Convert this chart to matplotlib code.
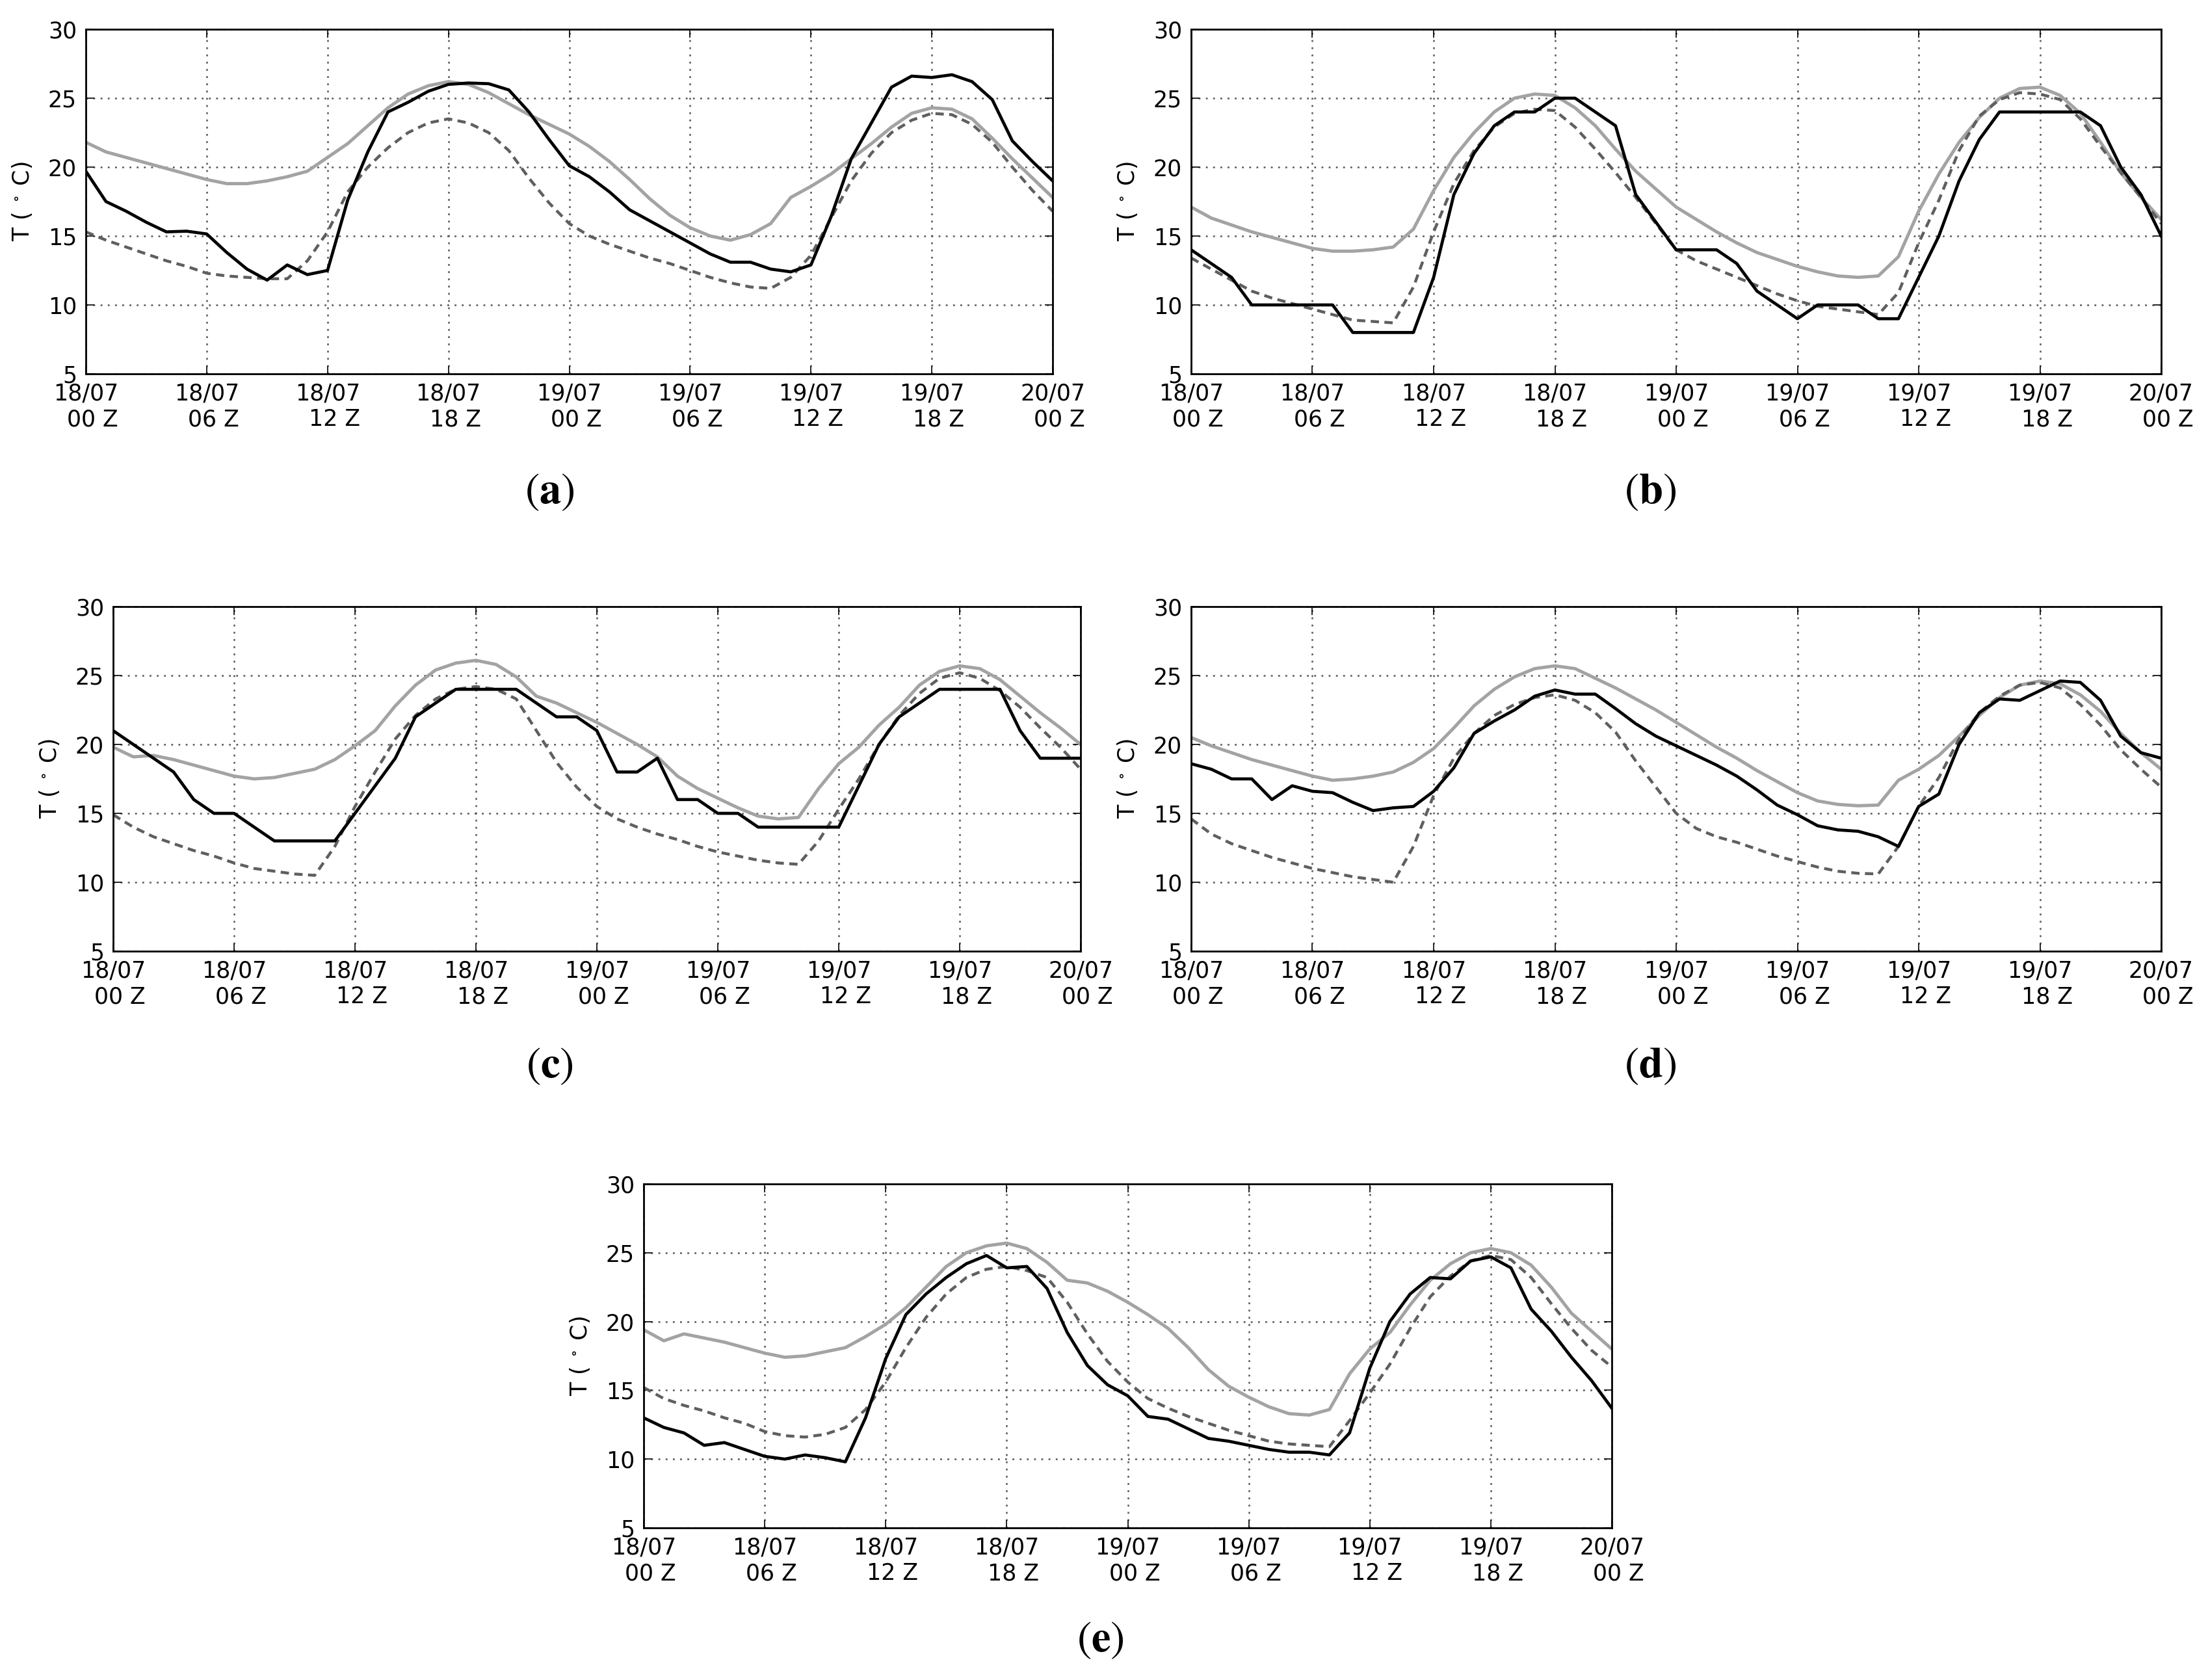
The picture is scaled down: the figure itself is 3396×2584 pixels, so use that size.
import matplotlib
matplotlib.use("Agg")
import matplotlib.pyplot as plt

# ---------------- data ----------------
hours = list(range(0, 49))
tick_hours = [0, 6, 12, 18, 24, 30, 36, 42, 48]
tick_labels = ["18/07\n00 Z", "18/07\n06 Z", "18/07\n12 Z", "18/07\n18 Z",
               "19/07\n00 Z", "19/07\n06 Z", "19/07\n12 Z", "19/07\n18 Z",
               "20/07\n00 Z"]
y_ticks = [5, 10, 15, 20, 25, 30]
panel_labels = ["a", "b", "c", "d", "e"]

a_black = [19.7, 17.5, 16.8, 16.0, 15.3, 15.35, 15.15, 13.8, 12.6, 11.8,
           12.9, 12.2, 12.5, 17.6, 21.1, 24.0, 24.7, 25.5, 26.0, 26.1,
           26.05, 25.6, 24.0, 22.0, 20.1, 19.3, 18.2, 16.9, 16.1, 15.3,
           14.5, 13.7, 13.1, 13.1, 12.6, 12.4, 12.9, 16.4, 20.6, 23.2,
           25.8, 26.6, 26.5, 26.7, 26.2, 24.9, 21.9, 20.4, 19.0]
a_gray = [21.8, 21.1, 20.7, 20.3, 19.9, 19.5, 19.1, 18.8, 18.8, 19.0,
          19.3, 19.7, 20.7, 21.7, 23.0, 24.3, 25.3, 25.9, 26.2, 26.0,
          25.4, 24.6, 23.8, 23.1, 22.4, 21.5, 20.4, 19.1, 17.7, 16.5,
          15.6, 15.0, 14.7, 15.1, 15.9, 17.8, 18.6, 19.5, 20.6, 21.7,
          22.9, 23.9, 24.3, 24.2, 23.5, 22.1, 20.6, 19.2, 17.8]
a_dash = [15.3, 14.7, 14.2, 13.7, 13.2, 12.8, 12.3, 12.1, 12.0, 11.9,
          11.9, 13.2, 15.3, 18.2, 20.0, 21.4, 22.5, 23.2, 23.5, 23.2,
          22.5, 21.2, 19.2, 17.4, 15.9, 15.0, 14.4, 13.9, 13.4, 13.0,
          12.5, 12.0, 11.6, 11.3, 11.2, 12.0, 13.6, 16.3, 19.0, 21.0,
          22.5, 23.4, 23.9, 23.8, 23.1, 21.8, 20.0, 18.3, 16.8]

b_black = [14, 13, 12, 10, 10, 10, 10, 10, 8, 8,
           8, 8, 12, 18, 21, 23, 24, 24, 25, 25,
           24, 23, 18, 16, 14, 14, 14, 13, 11, 10,
           9, 10, 10, 10, 9, 9, 12, 15, 19, 22,
           24, 24, 24, 24, 24, 23, 20, 18, 15]
b_gray = [17.1, 16.3, 15.8, 15.3, 14.9, 14.5, 14.1, 13.9, 13.9, 14.0,
          14.2, 15.5, 18.3, 20.7, 22.5, 24.0, 25.0, 25.3, 25.2, 24.3,
          23.0, 21.3, 19.7, 18.4, 17.1, 16.2, 15.3, 14.5, 13.8, 13.3,
          12.8, 12.4, 12.1, 12.0, 12.1, 13.5, 16.8, 19.5, 21.8, 23.6,
          25.0, 25.7, 25.8, 25.2, 23.9, 21.8, 19.6, 17.8, 16.2]
b_dash = [13.4, 12.6, 11.8, 11.0, 10.5, 10.1, 9.7, 9.3, 8.9, 8.8,
          8.7, 11.3, 15.3, 18.8, 21.2, 22.9, 23.9, 24.2, 24.1, 22.9,
          21.3, 19.6, 17.8, 15.9, 14.0, 13.2, 12.6, 12.0, 11.4, 10.8,
          10.3, 9.9, 9.7, 9.5, 9.3, 10.9, 14.5, 17.6, 21.2, 23.7,
          24.9, 25.4, 25.3, 24.9, 23.5, 21.5, 19.6, 17.8, 15.9]

c_black = [21, 20, 19, 18, 16, 15, 15, 14, 13, 13,
           13, 13, 15, 17, 19, 22, 23, 24, 24, 24,
           24, 23, 22, 22, 21, 18, 18, 19, 16, 16,
           15, 15, 14, 14, 14, 14, 14, 17, 20, 22,
           23, 24, 24, 24, 24, 21, 19, 19, 19]
c_gray = [19.8, 19.1, 19.2, 18.9, 18.5, 18.1, 17.7, 17.5, 17.6, 17.9,
          18.2, 18.9, 19.9, 21.0, 22.8, 24.3, 25.4, 25.9, 26.1, 25.8,
          24.9, 23.5, 23.0, 22.3, 21.6, 20.8, 20.0, 19.1, 17.7, 16.8,
          16.1, 15.4, 14.8, 14.6, 14.7, 16.8, 18.6, 19.8, 21.4, 22.7,
          24.3, 25.3, 25.7, 25.5, 24.7, 23.5, 22.3, 21.2, 20.0]
c_dash = [14.9, 14.0, 13.3, 12.8, 12.3, 11.9, 11.4, 11.0, 10.8, 10.6,
          10.5, 12.6, 15.5, 18.0, 20.4, 22.1, 23.3, 24.0, 24.2, 24.0,
          23.3, 21.0, 18.7, 16.9, 15.5, 14.6, 14.0, 13.5, 13.1, 12.6,
          12.2, 11.9, 11.6, 11.4, 11.3, 13.0, 15.3, 17.5, 20.0, 22.1,
          23.7, 24.8, 25.2, 24.8, 23.9, 22.7, 21.2, 19.8, 18.2]

d_black = [18.6, 18.2, 17.5, 17.5, 16.0, 17.0, 16.6, 16.5, 15.8, 15.2,
           15.4, 15.5, 16.6, 18.3, 20.8, 21.7, 22.5, 23.5, 23.95, 23.65,
           23.65, 22.6, 21.5, 20.6, 19.9, 19.2, 18.5, 17.7, 16.7, 15.6,
           14.9, 14.1, 13.8, 13.7, 13.3, 12.6, 15.5, 16.4, 20.0, 22.3,
           23.3, 23.2, 23.9, 24.6, 24.5, 23.2, 20.6, 19.4, 19.0]
d_gray = [20.5, 19.9, 19.4, 18.9, 18.5, 18.1, 17.7, 17.4, 17.5, 17.7,
          18.0, 18.7, 19.7, 21.2, 22.8, 24.0, 24.9, 25.5, 25.7, 25.5,
          24.8, 24.1, 23.3, 22.5, 21.6, 20.7, 19.8, 19.0, 18.1, 17.3,
          16.5, 15.9, 15.65, 15.55, 15.6, 17.4, 18.2, 19.2, 20.6, 22.1,
          23.4, 24.3, 24.6, 24.4, 23.6, 22.4, 20.8, 19.4, 18.2]
d_dash = [14.6, 13.5, 12.8, 12.3, 11.8, 11.4, 11.0, 10.7, 10.4, 10.2,
          10.0, 12.6, 16.3, 19.0, 20.8, 22.1, 22.9, 23.4, 23.6, 23.2,
          22.3, 20.9, 18.8, 16.9, 15.0, 13.9, 13.3, 12.9, 12.4, 11.9,
          11.5, 11.1, 10.8, 10.65, 10.6, 12.6, 15.5, 17.6, 20.4, 22.3,
          23.5, 24.3, 24.5, 24.1, 22.9, 21.4, 19.6, 18.2, 16.9]

e_black = [13.0, 12.3, 11.9, 11.0, 11.2, 10.7, 10.2, 10.0, 10.3, 10.1,
           9.8, 13.0, 17.3, 20.5, 22.0, 23.2, 24.2, 24.8, 23.9, 24.0,
           22.4, 19.2, 16.8, 15.4, 14.6, 13.1, 12.9, 12.2, 11.5, 11.3,
           11.0, 10.7, 10.5, 10.5, 10.3, 11.9, 16.6, 20.0, 22.0, 23.2,
           23.1, 24.4, 24.7, 23.9, 20.9, 19.3, 17.4, 15.7, 13.7]
e_gray = [19.4, 18.6, 19.1, 18.8, 18.5, 18.1, 17.7, 17.4, 17.5, 17.8,
          18.1, 18.9, 19.8, 21.0, 22.5, 24.0, 25.0, 25.5, 25.7, 25.3,
          24.3, 23.0, 22.8, 22.2, 21.4, 20.5, 19.5, 18.1, 16.5, 15.3,
          14.5, 13.8, 13.3, 13.2, 13.6, 16.2, 18.0, 19.2, 21.2, 23.0,
          24.2, 25.0, 25.3, 25.0, 24.1, 22.5, 20.6, 19.3, 18.0]
e_dash = [15.2, 14.4, 13.9, 13.5, 13.0, 12.6, 12.0, 11.7, 11.6, 11.8,
          12.3, 13.6, 15.6, 18.1, 20.3, 22.0, 23.2, 23.8, 24.0, 23.7,
          23.2, 21.4, 19.1, 17.1, 15.6, 14.4, 13.7, 13.1, 12.6, 12.1,
          11.7, 11.3, 11.1, 11.0, 10.9, 12.8, 14.8, 16.9, 19.5, 21.8,
          23.3, 24.4, 24.8, 24.5, 23.2, 21.3, 19.5, 17.9, 16.7]

panels = [(a_black, a_gray, a_dash), (b_black, b_gray, b_dash),
          (c_black, c_gray, c_dash), (d_black, d_gray, d_dash),
          (e_black, e_gray, e_dash)]

# ---------------- layout (pixels of a 3396x2584 canvas) ----------------
W, H = 3396, 2584
boxes = [(132, 1619, 45, 575), (1832, 3324, 45, 575),
         (174, 1662, 933, 1463), (1832, 3324, 933, 1463),
         (990, 2479, 1821, 2350)]
label_pos = [(845, 755), (2538, 755), (845, 1638), (2538, 1638), (1692, 2521)]

plt.rcParams['mathtext.fontset'] = 'stix'
plt.rcParams['lines.scale_dashes'] = False

fig = plt.figure(figsize=(W / 200, H / 200), dpi=200)

for (blk, gry, dsh), (l, r, t, b), lab, (lx, ly) in zip(panels, boxes, panel_labels, label_pos):
    ax = fig.add_axes([l / W, 1 - b / H, (r - l) / W, (b - t) / H])
    ax.plot(hours, gry, color='#a3a3a3', lw=1.8, solid_joinstyle='round')
    ax.plot(hours, dsh, color='#5f5f5f', lw=1.6, dashes=(4.6, 3.0))
    ax.plot(hours, blk, color='black', lw=1.7, solid_joinstyle='round')
    ax.set_xlim(0, 48)
    ax.set_ylim(5, 30)
    ax.set_xticks(tick_hours)
    ax.set_xticklabels(tick_labels, multialignment='right')
    ax.set_yticks(y_ticks)
    ax.grid(True, color='#555555', lw=0.9, linestyle=(0, (1, 3)))
    ax.tick_params(direction='in', top=True, right=True, length=4.5,
                   width=0.6, labelsize=12.5, pad=5)
    for sp in ax.spines.values():
        sp.set_linewidth(1.0)
    ax.set_ylabel(r'T ( $^\circ$ C)', fontsize=12.5, labelpad=8)
    fig.text(lx / W, 1 - ly / H, r'$(\mathbf{' + lab + r'})$',
             ha='center', va='center', fontsize=24)

fig.savefig('out.png', dpi=200, facecolor='white')
